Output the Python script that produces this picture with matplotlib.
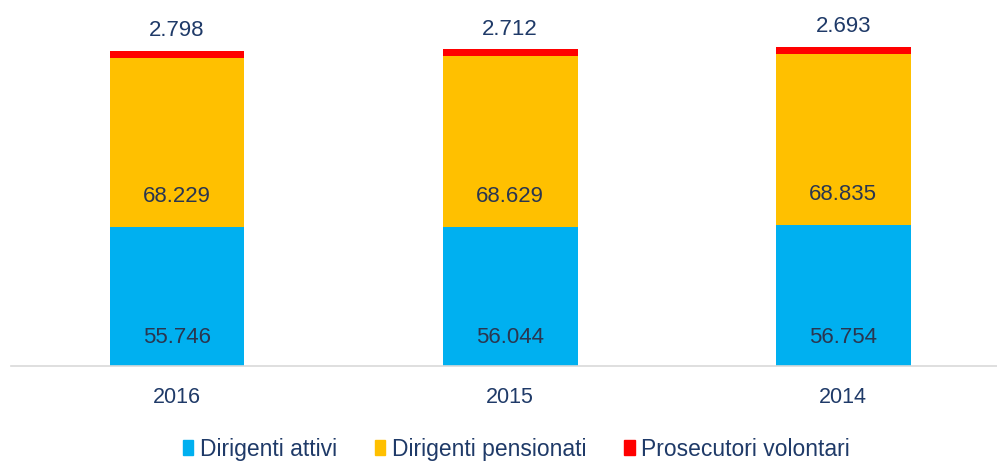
import matplotlib.pyplot as plt
from matplotlib.patches import Patch

plt.rcParams['font.family'] = ['Liberation Sans', 'DejaVu Sans']

years = ["2016", "2015", "2014"]
attivi = [55746, 56044, 56754]
pensionati = [68229, 68629, 68835]
volontari = [2798, 2712, 2693]
series_names = ["Dirigenti attivi", "Dirigenti pensionati", "Prosecutori volontari"]
colors = ["#00B0F0", "#FFC000", "#FF0000"]


def fmt(v):
    return f"{v:,}".replace(",", ".")


fig = plt.figure(figsize=(9.97, 4.61), dpi=100)
ax = fig.add_axes([10.5 / 997, 95 / 461, 986.5 / 997, 348 / 461])

x = list(range(len(years)))
w = 0.405
ax.bar(x, attivi, w, color=colors[0], zorder=2)
bottom2 = attivi
ax.bar(x, pensionati, w, bottom=bottom2, color=colors[1], zorder=2)
bottom3 = [a + b for a, b in zip(attivi, pensionati)]
ax.bar(x, volontari, w, bottom=bottom3, color=colors[2], zorder=2)

inner = "#2A3650"
outer = "#1F3A68"
fs = 16
for i in x:
    ax.annotate(fmt(attivi[i]), (i, 0), xytext=(0, 20.5), textcoords="offset points",
                ha="center", va="center", fontsize=fs, color=inner)
    ax.annotate(fmt(pensionati[i]), (i, bottom2[i]), xytext=(0, 22), textcoords="offset points",
                ha="center", va="center", fontsize=fs, color=inner)
    top = bottom3[i] + volontari[i]
    ax.annotate(fmt(volontari[i]), (i, top), xytext=(0, 14.5), textcoords="offset points",
                ha="center", va="center", fontsize=fs, color=outer)

ax.set_xlim(-0.5, 2.462)
ax.set_ylim(0, 140000)
ax.set_xticks(x)
ax.set_xticklabels(years, fontsize=15.5, color=outer)
ax.tick_params(axis="x", length=0, pad=15)
ax.set_yticks([])
for s in ["top", "right", "left"]:
    ax.spines[s].set_visible(False)
ax.spines["bottom"].set_color("#D9D9D9")
ax.spines["bottom"].set_linewidth(1.2)

handles = [Patch(color=c, label=n) for c, n in zip(colors, series_names)]
fig.legend(handles=handles, loc="center", bbox_to_anchor=(0.518, 12 / 461), ncol=3,
           frameon=False, fontsize=16.5, handlelength=0.45, handleheight=0.6,
           handletextpad=0.3, columnspacing=1.65, labelcolor=outer)

fig.savefig("out.png", dpi=100)
